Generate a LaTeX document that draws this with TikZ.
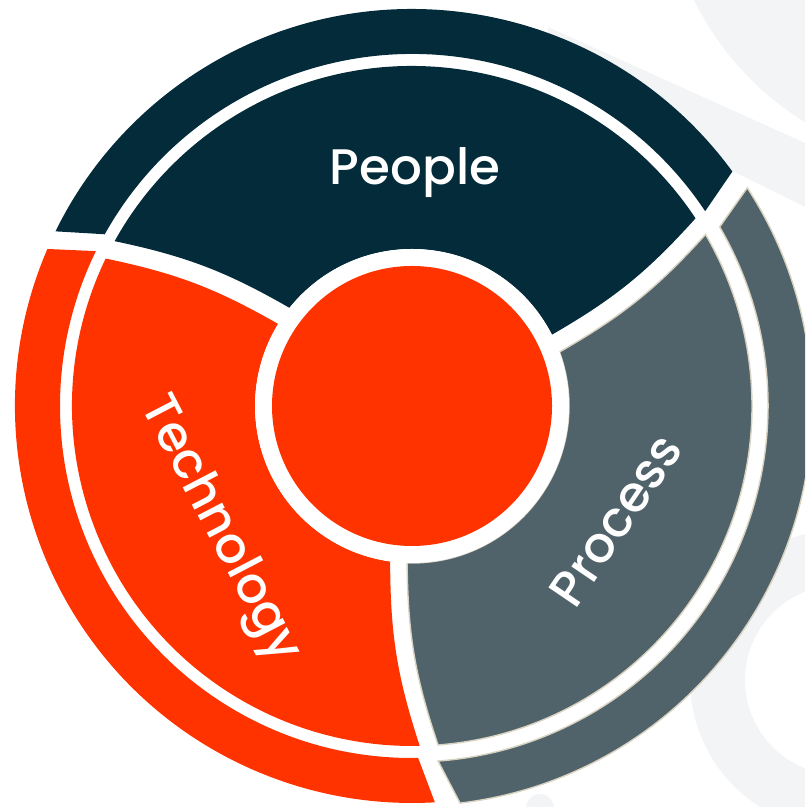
\documentclass[tikz,border=0pt]{standalone}
\usepackage{fontspec}
\setmainfont{Poppins}[UprightFont={* Medium}]
\usepackage{tikz}

\definecolor{peoplecol}{RGB}{3,43,58}
\definecolor{techcol}{RGB}{255,51,0}
\definecolor{proccol}{RGB}{80,98,106}
\definecolor{procline}{RGB}{216,210,192}
\definecolor{backcol}{RGB}{243,244,246}

\begin{document}
\begin{tikzpicture}[x=0.01cm,y=0.01cm,
  segtext/.style={text=white,font=\fontsize{14.2}{17}\selectfont},
  procpart/.style={fill=proccol,draw=procline,line width=0.4pt}]
\clip (0,0) rectangle (805,807);

\fill[backcol] (960,937) circle (296);
\fill[backcol] (548,780) -- (805,664) -- (805,600) -- (548,727) -- cycle;
\fill[backcol,even odd rule] (840,127) circle (150) (840,127) circle (95);
\fill[backcol] (540,-1) circle (14);

\coordinate (O) at (412,401);
\begin{scope}[shift={(O)}]
\fill[peoplecol] (33.6:352) -- (36.2:397) arc[start angle=36.2,end angle=153.9,radius=397]
  -- (150.8:352) arc[start angle=150.8,end angle=33.6,radius=352] -- cycle;
\fill[techcol] (153.9:352) -- (156.7:397) arc[start angle=156.7,end angle=273.3,radius=397]
  -- (271:352) arc[start angle=271,end angle=153.9,radius=352] -- cycle;
\path[procpart] (-85.8:356) -- (-83.1:400) arc[start angle=-83.1,end angle=33.05,radius=400]
  -- (30.2:356) arc[start angle=30.2,end angle=-85.8,radius=356] -- cycle;

\fill[peoplecol] (27:157) to[bend right=9] (33.5:340) arc[start angle=33.5,end angle=151,radius=340]
  to[bend left=9] (141.3:157) arc[start angle=141.3,end angle=27,radius=157] -- cycle;
\fill[techcol] (148.5:157) to[bend right=9] (154.3:340) arc[start angle=154.3,end angle=271.3,radius=340]
  to[bend left=9] (262:157) arc[start angle=262,end angle=148.5,radius=157] -- cycle;
\path[procpart] (268.2:157) to[bend right=9] (274.4:340) arc[start angle=274.4,end angle=390.3,radius=340]
  to[bend left=9] (380.1:157) arc[start angle=380.1,end angle=268.2,radius=157] -- cycle;

\fill[white] (0,0) circle (157);
\fill[techcol] (0,0) circle (140);
\end{scope}

\node[segtext,anchor=base] (people) at (415,622) {People};
\node[segtext,rotate=-62.5] (technology) at (219,277) {Technology};
\node[segtext,rotate=55.8] (process) at (616,287) {Process};
\end{tikzpicture}
\end{document}
